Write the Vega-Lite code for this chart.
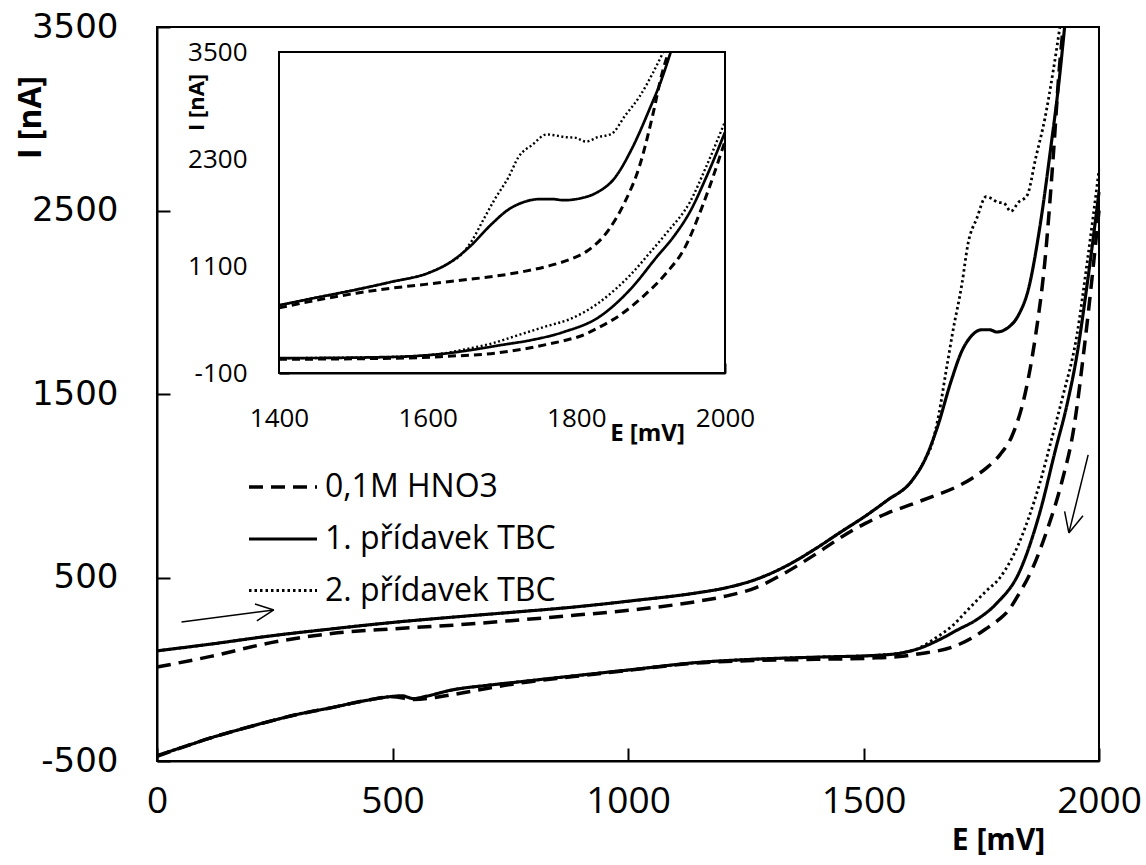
{
"$schema":"https://vega.github.io/schema/vega-lite/v6.json",
"width":942,"height":734,
"autosize":{"type":"none"},
"padding":{"left":157,"top":27,"right":47,"bottom":104},
"background":"white",
"config":{
"view":{"stroke":"black","strokeWidth":2},
"axis":{"grid":false,"domainColor":"black","domainWidth":2,"tickColor":"black","tickWidth":2,"labelColor":"black","titleColor":"black","labelFont":"Open Sans","titleFont":"Open Sans","labelFlush":false,"labelOverlap":false,"labelExpr":"'' + datum.value"}
},
"datasets":{
"arrows":[
{"E":52,"I":257,"E2":248,"I2":323},{"E":248,"I":323,"E2":208,"I2":356},{"E":248,"I":323,"E2":212,"I2":263},
{"E":1977,"I":1168,"E2":1936,"I2":743},{"E":1936,"I":743,"E2":1966,"I2":836},{"E":1936,"I":743,"E2":1927,"I2":860}],
"cv":[
{"s":"1. přídavek TBC","b":"f","E":0,"I":100},{"s":"1. přídavek TBC","b":"f","E":114,"I":137},{"s":"1. přídavek TBC","b":"f","E":242,"I":182},{"s":"1. přídavek TBC","b":"f","E":371,"I":220},{"s":"1. přídavek TBC","b":"f","E":500,"I":255},{"s":"1. přídavek TBC","b":"f","E":628,"I":284},{"s":"1. přídavek TBC","b":"f","E":757,"I":311},{"s":"1. přídavek TBC","b":"f","E":885,"I":339},{"s":"1. přídavek TBC","b":"f","E":1015,"I":375},{"s":"1. přídavek TBC","b":"f","E":1143,"I":415},{"s":"1. přídavek TBC","b":"f","E":1210,"I":445},{"s":"1. přídavek TBC","b":"f","E":1272,"I":490},{"s":"1. přídavek TBC","b":"f","E":1330,"I":555},{"s":"1. přídavek TBC","b":"f","E":1400,"I":660},{"s":"1. přídavek TBC","b":"f","E":1450,"I":745},{"s":"1. přídavek TBC","b":"f","E":1504,"I":835},{"s":"1. přídavek TBC","b":"f","E":1550,"I":920},{"s":"1. přídavek TBC","b":"f","E":1602,"I":1025},{"s":"1. přídavek TBC","b":"f","E":1630,"I":1140},{"s":"1. přídavek TBC","b":"f","E":1657,"I":1320},{"s":"1. přídavek TBC","b":"f","E":1686,"I":1570},{"s":"1. přídavek TBC","b":"f","E":1709,"I":1735},{"s":"1. přídavek TBC","b":"f","E":1727,"I":1810},{"s":"1. přídavek TBC","b":"f","E":1751,"I":1850},{"s":"1. přídavek TBC","b":"f","E":1768,"I":1850},{"s":"1. přídavek TBC","b":"f","E":1783,"I":1838},{"s":"1. přídavek TBC","b":"f","E":1806,"I":1860},{"s":"1. přídavek TBC","b":"f","E":1829,"I":1930},{"s":"1. přídavek TBC","b":"f","E":1850,"I":2070},{"s":"1. přídavek TBC","b":"f","E":1875,"I":2420},{"s":"1. přídavek TBC","b":"f","E":1898,"I":2850},{"s":"1. přídavek TBC","b":"f","E":1915,"I":3200},{"s":"1. přídavek TBC","b":"f","E":1927,"I":3500},
{"s":"2. přídavek TBC","b":"f","E":0,"I":100},{"s":"2. přídavek TBC","b":"f","E":114,"I":137},{"s":"2. přídavek TBC","b":"f","E":242,"I":182},{"s":"2. přídavek TBC","b":"f","E":371,"I":220},{"s":"2. přídavek TBC","b":"f","E":500,"I":255},{"s":"2. přídavek TBC","b":"f","E":628,"I":284},{"s":"2. přídavek TBC","b":"f","E":757,"I":311},{"s":"2. přídavek TBC","b":"f","E":885,"I":339},{"s":"2. přídavek TBC","b":"f","E":1015,"I":375},{"s":"2. přídavek TBC","b":"f","E":1143,"I":415},{"s":"2. přídavek TBC","b":"f","E":1210,"I":445},{"s":"2. přídavek TBC","b":"f","E":1272,"I":490},{"s":"2. přídavek TBC","b":"f","E":1330,"I":555},{"s":"2. přídavek TBC","b":"f","E":1400,"I":660},{"s":"2. přídavek TBC","b":"f","E":1450,"I":745},{"s":"2. přídavek TBC","b":"f","E":1504,"I":835},{"s":"2. přídavek TBC","b":"f","E":1550,"I":920},{"s":"2. přídavek TBC","b":"f","E":1602,"I":1025},{"s":"2. přídavek TBC","b":"f","E":1630,"I":1140},{"s":"2. přídavek TBC","b":"f","E":1645,"I":1225},{"s":"2. přídavek TBC","b":"f","E":1660,"I":1390},{"s":"2. přídavek TBC","b":"f","E":1675,"I":1620},{"s":"2. přídavek TBC","b":"f","E":1690,"I":1845},{"s":"2. přídavek TBC","b":"f","E":1709,"I":2100},{"s":"2. přídavek TBC","b":"f","E":1722,"I":2320},{"s":"2. přídavek TBC","b":"f","E":1741,"I":2460},{"s":"2. přídavek TBC","b":"f","E":1760,"I":2575},{"s":"2. přídavek TBC","b":"f","E":1772,"I":2565},{"s":"2. přídavek TBC","b":"f","E":1785,"I":2545},{"s":"2. přídavek TBC","b":"f","E":1798,"I":2540},{"s":"2. přídavek TBC","b":"f","E":1813,"I":2495},{"s":"2. přídavek TBC","b":"f","E":1829,"I":2545},{"s":"2. přídavek TBC","b":"f","E":1847,"I":2580},{"s":"2. přídavek TBC","b":"f","E":1866,"I":2790},{"s":"2. přídavek TBC","b":"f","E":1885,"I":3000},{"s":"2. přídavek TBC","b":"f","E":1903,"I":3265},{"s":"2. přídavek TBC","b":"f","E":1917,"I":3500},
{"s":"0,1M HNO3","b":"f","E":0,"I":12},{"s":"0,1M HNO3","b":"f","E":114,"I":70},{"s":"0,1M HNO3","b":"f","E":242,"I":145},{"s":"0,1M HNO3","b":"f","E":371,"I":195},{"s":"0,1M HNO3","b":"f","E":500,"I":220},{"s":"0,1M HNO3","b":"f","E":628,"I":240},{"s":"0,1M HNO3","b":"f","E":757,"I":266},{"s":"0,1M HNO3","b":"f","E":885,"I":294},{"s":"0,1M HNO3","b":"f","E":1015,"I":325},{"s":"0,1M HNO3","b":"f","E":1143,"I":368},{"s":"0,1M HNO3","b":"f","E":1210,"I":400},{"s":"0,1M HNO3","b":"f","E":1272,"I":445},{"s":"0,1M HNO3","b":"f","E":1330,"I":520},{"s":"0,1M HNO3","b":"f","E":1400,"I":630},{"s":"0,1M HNO3","b":"f","E":1450,"I":715},{"s":"0,1M HNO3","b":"f","E":1504,"I":795},{"s":"0,1M HNO3","b":"f","E":1550,"I":850},{"s":"0,1M HNO3","b":"f","E":1597,"I":894},{"s":"0,1M HNO3","b":"f","E":1650,"I":945},{"s":"0,1M HNO3","b":"f","E":1690,"I":985},{"s":"0,1M HNO3","b":"f","E":1730,"I":1040},{"s":"0,1M HNO3","b":"f","E":1760,"I":1095},{"s":"0,1M HNO3","b":"f","E":1790,"I":1170},{"s":"0,1M HNO3","b":"f","E":1815,"I":1270},{"s":"0,1M HNO3","b":"f","E":1843,"I":1500},{"s":"0,1M HNO3","b":"f","E":1866,"I":1830},{"s":"0,1M HNO3","b":"f","E":1885,"I":2220},{"s":"0,1M HNO3","b":"f","E":1903,"I":2800},{"s":"0,1M HNO3","b":"f","E":1915,"I":3250},{"s":"0,1M HNO3","b":"f","E":1924,"I":3500},
{"s":"1. přídavek TBC","b":"r","E":0,"I":-470},{"s":"1. přídavek TBC","b":"r","E":60,"I":-420},{"s":"1. přídavek TBC","b":"r","E":114,"I":-374},{"s":"1. přídavek TBC","b":"r","E":180,"I":-325},{"s":"1. přídavek TBC","b":"r","E":242,"I":-282},{"s":"1. přídavek TBC","b":"r","E":300,"I":-245},{"s":"1. přídavek TBC","b":"r","E":371,"I":-209},{"s":"1. přídavek TBC","b":"r","E":440,"I":-172},{"s":"1. přídavek TBC","b":"r","E":500,"I":-148},{"s":"1. přídavek TBC","b":"r","E":520,"I":-145},{"s":"1. přídavek TBC","b":"r","E":545,"I":-160},{"s":"1. přídavek TBC","b":"r","E":570,"I":-148},{"s":"1. přídavek TBC","b":"r","E":628,"I":-112},{"s":"1. přídavek TBC","b":"r","E":700,"I":-88},{"s":"1. přídavek TBC","b":"r","E":757,"I":-72},{"s":"1. přídavek TBC","b":"r","E":885,"I":-36},{"s":"1. přídavek TBC","b":"r","E":1015,"I":0},{"s":"1. přídavek TBC","b":"r","E":1143,"I":36},{"s":"1. přídavek TBC","b":"r","E":1272,"I":55},{"s":"1. přídavek TBC","b":"r","E":1400,"I":66},{"s":"1. přídavek TBC","b":"r","E":1529,"I":76},{"s":"1. přídavek TBC","b":"r","E":1587,"I":92},{"s":"1. přídavek TBC","b":"r","E":1620,"I":115},{"s":"1. přídavek TBC","b":"r","E":1660,"I":160},{"s":"1. přídavek TBC","b":"r","E":1700,"I":215},{"s":"1. přídavek TBC","b":"r","E":1740,"I":270},{"s":"1. přídavek TBC","b":"r","E":1783,"I":360},{"s":"1. přídavek TBC","b":"r","E":1830,"I":525},{"s":"1. přídavek TBC","b":"r","E":1875,"I":860},{"s":"1. přídavek TBC","b":"r","E":1908,"I":1200},{"s":"1. přídavek TBC","b":"r","E":1931,"I":1430},{"s":"1. přídavek TBC","b":"r","E":1953,"I":1710},{"s":"1. přídavek TBC","b":"r","E":1975,"I":2100},{"s":"1. přídavek TBC","b":"r","E":2000,"I":2600},
{"s":"2. přídavek TBC","b":"r","E":0,"I":-470},{"s":"2. přídavek TBC","b":"r","E":60,"I":-420},{"s":"2. přídavek TBC","b":"r","E":114,"I":-374},{"s":"2. přídavek TBC","b":"r","E":180,"I":-325},{"s":"2. přídavek TBC","b":"r","E":242,"I":-282},{"s":"2. přídavek TBC","b":"r","E":300,"I":-245},{"s":"2. přídavek TBC","b":"r","E":371,"I":-209},{"s":"2. přídavek TBC","b":"r","E":440,"I":-172},{"s":"2. přídavek TBC","b":"r","E":500,"I":-148},{"s":"2. přídavek TBC","b":"r","E":520,"I":-145},{"s":"2. přídavek TBC","b":"r","E":545,"I":-160},{"s":"2. přídavek TBC","b":"r","E":570,"I":-148},{"s":"2. přídavek TBC","b":"r","E":628,"I":-112},{"s":"2. přídavek TBC","b":"r","E":700,"I":-88},{"s":"2. přídavek TBC","b":"r","E":757,"I":-72},{"s":"2. přídavek TBC","b":"r","E":885,"I":-36},{"s":"2. přídavek TBC","b":"r","E":1015,"I":0},{"s":"2. přídavek TBC","b":"r","E":1143,"I":36},{"s":"2. přídavek TBC","b":"r","E":1272,"I":55},{"s":"2. přídavek TBC","b":"r","E":1400,"I":66},{"s":"2. přídavek TBC","b":"r","E":1529,"I":76},{"s":"2. přídavek TBC","b":"r","E":1587,"I":92},{"s":"2. přídavek TBC","b":"r","E":1620,"I":118},{"s":"2. přídavek TBC","b":"r","E":1650,"I":165},{"s":"2. přídavek TBC","b":"r","E":1690,"I":240},{"s":"2. přídavek TBC","b":"r","E":1720,"I":320},{"s":"2. přídavek TBC","b":"r","E":1760,"I":425},{"s":"2. přídavek TBC","b":"r","E":1790,"I":500},{"s":"2. přídavek TBC","b":"r","E":1812,"I":590},{"s":"2. přídavek TBC","b":"r","E":1829,"I":680},{"s":"2. přídavek TBC","b":"r","E":1850,"I":820},{"s":"2. přídavek TBC","b":"r","E":1875,"I":1020},{"s":"2. přídavek TBC","b":"r","E":1900,"I":1260},{"s":"2. přídavek TBC","b":"r","E":1922,"I":1476},{"s":"2. přídavek TBC","b":"r","E":1953,"I":1820},{"s":"2. přídavek TBC","b":"r","E":1975,"I":2220},{"s":"2. přídavek TBC","b":"r","E":2000,"I":2720},
{"s":"0,1M HNO3","b":"r","E":0,"I":-475},{"s":"0,1M HNO3","b":"r","E":60,"I":-420},{"s":"0,1M HNO3","b":"r","E":114,"I":-374},{"s":"0,1M HNO3","b":"r","E":180,"I":-325},{"s":"0,1M HNO3","b":"r","E":242,"I":-282},{"s":"0,1M HNO3","b":"r","E":300,"I":-245},{"s":"0,1M HNO3","b":"r","E":371,"I":-209},{"s":"0,1M HNO3","b":"r","E":440,"I":-172},{"s":"0,1M HNO3","b":"r","E":500,"I":-150},{"s":"0,1M HNO3","b":"r","E":545,"I":-165},{"s":"0,1M HNO3","b":"r","E":600,"I":-150},{"s":"0,1M HNO3","b":"r","E":650,"I":-128},{"s":"0,1M HNO3","b":"r","E":700,"I":-105},{"s":"0,1M HNO3","b":"r","E":757,"I":-80},{"s":"0,1M HNO3","b":"r","E":885,"I":-40},{"s":"0,1M HNO3","b":"r","E":1015,"I":-2},{"s":"0,1M HNO3","b":"r","E":1143,"I":33},{"s":"0,1M HNO3","b":"r","E":1272,"I":48},{"s":"0,1M HNO3","b":"r","E":1400,"I":54},{"s":"0,1M HNO3","b":"r","E":1529,"I":62},{"s":"0,1M HNO3","b":"r","E":1587,"I":72},{"s":"0,1M HNO3","b":"r","E":1620,"I":85},{"s":"0,1M HNO3","b":"r","E":1690,"I":122},{"s":"0,1M HNO3","b":"r","E":1730,"I":170},{"s":"0,1M HNO3","b":"r","E":1760,"I":220},{"s":"0,1M HNO3","b":"r","E":1787,"I":270},{"s":"0,1M HNO3","b":"r","E":1806,"I":315},{"s":"0,1M HNO3","b":"r","E":1830,"I":410},{"s":"0,1M HNO3","b":"r","E":1858,"I":545},{"s":"0,1M HNO3","b":"r","E":1890,"I":760},{"s":"0,1M HNO3","b":"r","E":1922,"I":1030},{"s":"0,1M HNO3","b":"r","E":1945,"I":1290},{"s":"0,1M HNO3","b":"r","E":1970,"I":1780},{"s":"0,1M HNO3","b":"r","E":2000,"I":2500}
]},
"layer":[
{"layer":[
{"data":{"name":"cv"},
"mark":{"type":"line","color":"black","interpolate":"monotone"},
"encoding":{
"x":{"field":"E","type":"quantitative","scale":{"domain":[0,2000],"nice":false,"zero":false},
"axis":{"values":[0,500,1000,1500,2000],"tickSize":-13,"labelPadding":35,"labelFontSize":37,"title":"E [mV]","titleFontSize":30,"titleFontWeight":"bold","titleX":841,"titleY":79,"titleAlign":"center","titleBaseline":"middle"}},
"y":{"field":"I","type":"quantitative","scale":{"domain":[-500,3500],"nice":false,"zero":false},
"axis":{"values":[-500,500,1500,2500,3500],"tickSize":-13,"labelPadding":52,"labelFont":"DejaVu Sans","labelFontSize":34,"title":"I [nA]","titleFontSize":32,"titleFontWeight":"bold","titleX":-127,"titleY":90,"titleAngle":270,"titleAlign":"center","titleBaseline":"middle"}},
"detail":{"field":"b"},
"strokeDash":{"field":"s","type":"nominal","scale":{"domain":["0,1M HNO3","1. přídavek TBC","2. přídavek TBC"],"range":[[14,8],[1,0],[2.5,3]]},
"legend":{"orient":"none","legendX":90,"legendY":424,"title":null,"padding":0,"symbolType":"stroke","symbolSize":4624,"symbolStrokeWidth":3,"symbolStrokeColor":"black","labelFont":"Open Sans","labelFontSize":32,"labelColor":"black","labelOffset":6,"labelLimit":500,"rowPadding":-22}},
"strokeWidth":{"field":"s","type":"nominal","scale":{"domain":["0,1M HNO3","1. přídavek TBC","2. přídavek TBC"],"range":[3.5,2.8,2.6]},"legend":null}
}},
{"data":{"name":"arrows"},
"mark":{"type":"rule","color":"black","strokeWidth":1.5},
"encoding":{"x":{"field":"E","type":"quantitative"},"y":{"field":"I","type":"quantitative"},"x2":{"field":"E2"},"y2":{"field":"I2"}}}
]},
{"layer":[
{"data":{"values":[{}]},
"mark":{"type":"rect","fill":"white","stroke":"black","strokeWidth":2},
"encoding":{
"x":{"datum":1400,"type":"quantitative","scale":{"domain":[1400,2000],"range":[122,568],"nice":false,"zero":false},
"axis":{"orient":"bottom","offset":-388,"values":[1400,1600,1800,2000],"tickSize":-10,"labelPadding":42,"labelFontSize":26,"title":"E [mV]","titleFontSize":24,"titleFontWeight":"bold","titleX":490,"titleY":60,"titleAlign":"center","titleBaseline":"middle"}},
"x2":{"datum":2000},
"y":{"datum":-100,"type":"quantitative","scale":{"domain":[-100,3500],"range":[346,25],"nice":false,"zero":false},
"axis":{"orient":"left","offset":-122,"values":[-100,1100,2300,3500],"tickSize":-10,"labelPadding":42,"labelFontSize":26,"title":"I [nA]","titleFontSize":22,"titleFontWeight":"bold","titleX":-83,"titleY":75,"titleAngle":270,"titleAlign":"center","titleBaseline":"middle"}},
"y2":{"datum":3500}
}},
{"data":{"name":"cv"},
"transform":[{"filter":"datum.E >= 1400"}],
"mark":{"type":"line","color":"black","interpolate":"monotone"},
"encoding":{
"x":{"field":"E","type":"quantitative"},
"y":{"field":"I","type":"quantitative"},
"detail":{"field":"b"},
"strokeDash":{"field":"s","type":"nominal","scale":{"domain":["0,1M HNO3","1. přídavek TBC","2. přídavek TBC"],"range":[[8,5],[1,0],[2,2.5]]},"legend":null},
"strokeWidth":{"field":"s","type":"nominal","scale":{"domain":["0,1M HNO3","1. přídavek TBC","2. přídavek TBC"],"range":[3,2.4,2.2]},"legend":null}
}}
]}
],
"resolve":{"scale":{"x":"independent","y":"independent","strokeDash":"independent","strokeWidth":"independent"},"axis":{"x":"independent","y":"independent"}}
}
